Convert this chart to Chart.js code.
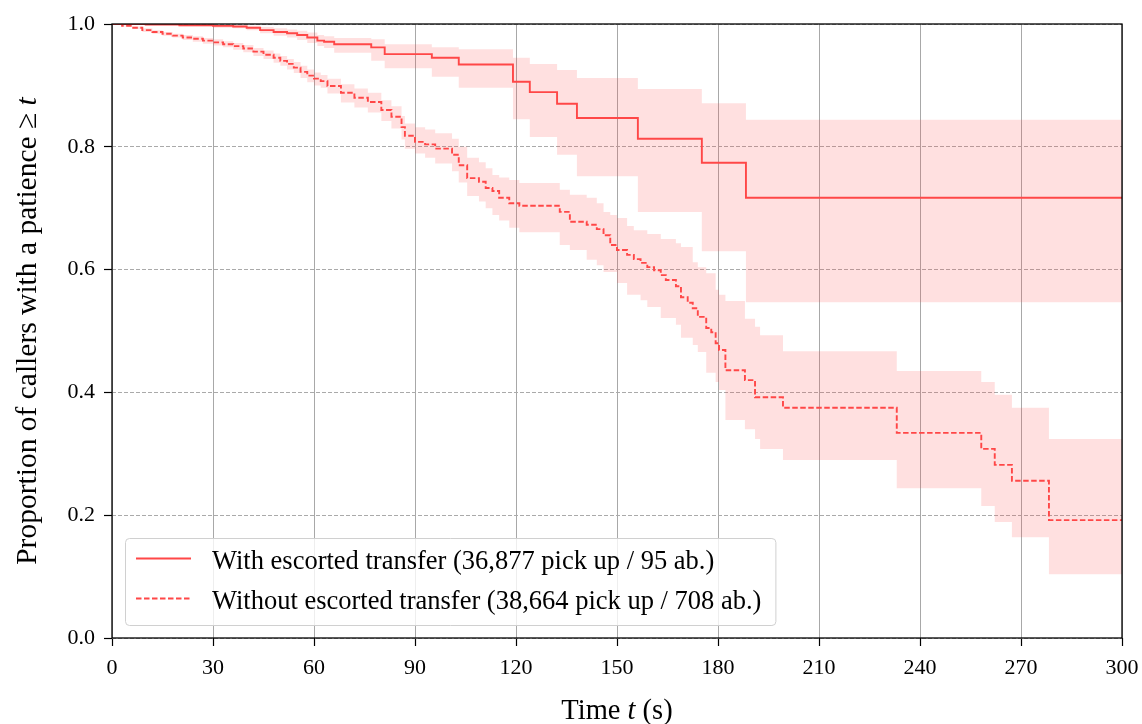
<!DOCTYPE html>
<html>
<head>
<meta charset="utf-8">
<script src="https://cdn.jsdelivr.net/npm/chart.js@4.4.0/dist/chart.umd.min.js"></script>
<style>
    html, body { margin: 0; padding: 0; background: #fff; }
    #wrap { width: 1142px; height: 724px; }
</style>
</head>
<body>
<div id="wrap"><canvas id="survivalChart" width="1142" height="724"></canvas></div>
<script>
// Kaplan-Meier estimates (time in seconds)
const withTimes = [0, 10, 20, 30, 36, 40, 44, 48, 52, 55, 58, 61, 63, 66, 77, 81, 95, 103, 119.1, 124.1, 132.2, 138.1, 156.2, 175.2, 188.3, 300];
const withSurvival = [1, 0.999, 0.998, 0.997, 0.996, 0.994, 0.990, 0.987, 0.985, 0.982, 0.978, 0.973, 0.971, 0.967, 0.962, 0.951, 0.945, 0.934, 0.906, 0.889, 0.870, 0.847, 0.813, 0.774, 0.717, 0.717];
const withUpper = [1, 1, 0.999, 0.999, 0.998, 0.997, 0.995, 0.993, 0.991, 0.989, 0.986, 0.982, 0.980, 0.977, 0.975, 0.967, 0.962, 0.959, 0.945, 0.935, 0.925, 0.912, 0.894, 0.871, 0.844, 0.844];
const withLower = [1, 0.998, 0.996, 0.994, 0.993, 0.990, 0.985, 0.981, 0.978, 0.974, 0.969, 0.964, 0.961, 0.953, 0.940, 0.928, 0.914, 0.896, 0.845, 0.816, 0.787, 0.752, 0.694, 0.630, 0.547, 0.547];

const withoutTimes = [0, 3, 6, 9, 12, 15, 18, 21, 24, 27,
    30, 33, 36, 39, 42, 45, 48, 50, 52, 54,
    56, 58, 60, 62, 64, 68, 72, 76, 80, 83,
    86, 87, 90, 93, 96, 101, 103, 105.5, 109, 111,
    113, 115, 118, 121, 133, 136, 141, 144, 146, 148,
    150, 153, 155, 157, 159, 161, 163, 164.5, 167.5, 169,
    171, 172.5, 174, 176.5, 178, 179.3, 180.3, 182.2, 188, 191,
    192.5, 199.3, 233.1, 258.2, 262.2, 267.3, 278.3, 300];
const withoutSurvival = [1, 0.997, 0.994, 0.990, 0.987, 0.984, 0.981, 0.978, 0.976, 0.973,
    0.970, 0.967, 0.964, 0.960, 0.955, 0.950, 0.945, 0.940, 0.935, 0.929,
    0.922, 0.916, 0.911, 0.907, 0.899, 0.888, 0.880, 0.873, 0.860, 0.849,
    0.832, 0.818, 0.808, 0.804, 0.797, 0.787, 0.770, 0.749, 0.743, 0.733,
    0.728, 0.717, 0.708, 0.704, 0.694, 0.678, 0.673, 0.666, 0.656, 0.640,
    0.632, 0.624, 0.617, 0.611, 0.604, 0.599, 0.591, 0.583, 0.573, 0.555,
    0.546, 0.537, 0.523, 0.505, 0.498, 0.480, 0.469, 0.436, 0.420, 0.392,
    0.392, 0.375, 0.334, 0.308, 0.282, 0.256, 0.192, 0.192];
const withoutUpper = [1, 0.998, 0.996, 0.993, 0.990, 0.987, 0.984, 0.982, 0.980, 0.977,
    0.975, 0.972, 0.969, 0.966, 0.961, 0.957, 0.952, 0.948, 0.943, 0.938,
    0.932, 0.926, 0.921, 0.917, 0.911, 0.902, 0.895, 0.888, 0.876, 0.866,
    0.850, 0.838, 0.832, 0.828, 0.822, 0.813, 0.800, 0.782, 0.775, 0.765,
    0.754, 0.750, 0.746, 0.741, 0.730, 0.722, 0.717, 0.708, 0.694, 0.689,
    0.684, 0.671, 0.664, 0.664, 0.658, 0.658, 0.650, 0.650, 0.643, 0.637,
    0.637, 0.612, 0.604, 0.594, 0.594, 0.567, 0.559, 0.549, 0.520, 0.507,
    0.493, 0.467, 0.435, 0.417, 0.396, 0.375, 0.324, 0.324];
const withoutLower = [1, 0.996, 0.992, 0.987, 0.984, 0.981, 0.978, 0.974, 0.971, 0.968,
    0.965, 0.962, 0.958, 0.954, 0.948, 0.943, 0.937, 0.932, 0.926, 0.920,
    0.912, 0.905, 0.900, 0.896, 0.887, 0.872, 0.864, 0.856, 0.842, 0.830,
    0.812, 0.797, 0.789, 0.782, 0.773, 0.760, 0.742, 0.720, 0.711, 0.700,
    0.689, 0.680, 0.668, 0.661, 0.640, 0.632, 0.616, 0.607, 0.596, 0.596,
    0.578, 0.559, 0.559, 0.550, 0.539, 0.539, 0.521, 0.521, 0.510, 0.489,
    0.489, 0.477, 0.466, 0.432, 0.432, 0.417, 0.404, 0.355, 0.340, 0.324,
    0.308, 0.290, 0.244, 0.215, 0.189, 0.164, 0.104, 0.104];

const withLabel = 'With escorted transfer (36,877 pick up / 95 ab.)';
const withoutLabel = 'Without escorted transfer (38,664 pick up / 708 ab.)';
const xTitle = ['Time ', 't', ' (s)'];
const yTitle = ['Proportion of callers with a patience \u2265 ', 't'];

const serif = "'Liberation Serif', 'DejaVu Serif', serif";
const lineColor = 'rgb(255, 71, 71)';
const bandColor = 'rgba(255, 71, 71, 0.17)';

function toPoints(times, values) {
    return times.map((t, i) => ({ x: t, y: values[i] }));
}

function bandDataset(times, values, fill) {
    return {
        data: toPoints(times, values),
        stepped: 'before',
        borderWidth: 0,
        borderColor: 'rgba(0,0,0,0)',
        backgroundColor: bandColor,
        pointRadius: 0,
        fill: fill
    };
}

// draws text pieces centred on the origin, odd pieces in italics
function drawPieces(ctx, pieces, size) {
    const fonts = pieces.map((p, i) => (i % 2 === 1 ? 'italic ' : '') + size + 'px ' + serif);
    let total = 0;
    const widths = pieces.map((p, i) => {
        ctx.font = fonts[i];
        const w = ctx.measureText(p).width;
        total += w;
        return w;
    });
    let x = -total / 2;
    pieces.forEach((p, i) => {
        ctx.font = fonts[i];
        ctx.fillText(p, x, 0);
        x += widths[i];
    });
}

const framePlugin = {
    id: 'frame',
    afterDatasetsDraw(chart) {
        const { ctx, chartArea } = chart;
        ctx.save();
        ctx.strokeStyle = '#000';
        ctx.lineWidth = 1.3;
        ctx.strokeRect(chartArea.left, chartArea.top, chartArea.right - chartArea.left, chartArea.bottom - chartArea.top);
        ctx.restore();
    }
};

const titlesPlugin = {
    id: 'axisTitles',
    afterDraw(chart) {
        const { ctx, chartArea } = chart;
        ctx.save();
        ctx.fillStyle = '#000';
        ctx.textBaseline = 'alphabetic';
        ctx.textAlign = 'left';
        ctx.translate((chartArea.left + chartArea.right) / 2, 719);
        drawPieces(ctx, xTitle, 28.5);
        ctx.restore();

        ctx.save();
        ctx.fillStyle = '#000';
        ctx.textBaseline = 'alphabetic';
        ctx.textAlign = 'left';
        ctx.translate(36, (chartArea.top + chartArea.bottom) / 2);
        ctx.rotate(-Math.PI / 2);
        drawPieces(ctx, yTitle, 29.5);
        ctx.restore();
    }
};

const legendPlugin = {
    id: 'boxLegend',
    afterDraw(chart) {
        const ctx = chart.ctx;
        const items = chart.data.datasets.filter(d => d.label);
        const boxX = chart.chartArea.left + 13;
        const boxY = 538;
        const rowGap = 40;
        const textX = boxX + 87;
        ctx.save();
        ctx.font = '26.5px ' + serif;
        const maxW = Math.max(...items.map(d => ctx.measureText(d.label).width));
        const boxW = textX + maxW + 14 - boxX;
        const boxH = 87;
        ctx.beginPath();
        ctx.roundRect(boxX + 0.5, boxY + 0.5, boxW, boxH, 4);
        ctx.fillStyle = 'rgba(255,255,255,0.8)';
        ctx.fill();
        ctx.strokeStyle = '#d0d0d0';
        ctx.lineWidth = 1;
        ctx.stroke();
        items.forEach((d, i) => {
            const y = boxY + 20.5 + i * rowGap;
            ctx.beginPath();
            ctx.setLineDash(d.borderDash || []);
            ctx.strokeStyle = d.borderColor;
            ctx.lineWidth = d.borderWidth;
            ctx.moveTo(boxX + 11, y);
            ctx.lineTo(boxX + 66, y);
            ctx.stroke();
            ctx.setLineDash([]);
            ctx.fillStyle = '#000';
            ctx.textBaseline = 'alphabetic';
            ctx.fillText(d.label, textX, y + 10.5);
        });
        ctx.restore();
    }
};

const chart = new Chart(document.getElementById('survivalChart').getContext('2d'), {
    type: 'line',
    data: {
        datasets: [
            {
                label: withLabel,
                data: toPoints(withTimes, withSurvival),
                stepped: 'before',
                borderColor: lineColor,
                borderWidth: 1.9,
                pointRadius: 0,
                fill: false
            },
            {
                label: withoutLabel,
                data: toPoints(withoutTimes, withoutSurvival),
                stepped: 'before',
                borderColor: lineColor,
                borderWidth: 1.9,
                borderDash: [5.5, 2.5],
                pointRadius: 0,
                fill: false
            },
            bandDataset(withTimes, withUpper, '+1'),
            bandDataset(withTimes, withLower, false),
            bandDataset(withoutTimes, withoutUpper, '+1'),
            bandDataset(withoutTimes, withoutLower, false)
        ]
    },
    options: {
        responsive: false,
        animation: false,
        devicePixelRatio: 1,
        layout: { padding: { left: 0, top: 24, right: 20, bottom: 0 } },
        plugins: {
            legend: { display: false },
            tooltip: { enabled: false },
            title: { display: false }
        },
        scales: {
            x: {
                type: 'linear',
                min: 0,
                max: 300,
                afterFit: scale => {
                    scale.height = 86;
                    scale.paddingLeft = 0;
                    scale.paddingRight = 0;
                },
                ticks: {
                    stepSize: 30,
                    padding: 9,
                    color: '#000',
                    maxRotation: 0,
                    font: { family: serif, size: 22 }
                },
                grid: {
                    color: '#a8a8a8',
                    lineWidth: 1,
                    tickLength: 8,
                    tickColor: '#000',
                    tickWidth: 1.2
                },
                border: { display: false }
            },
            y: {
                min: 0,
                max: 1,
                afterFit: scale => {
                    scale.width = 112;
                    scale.paddingTop = 0;
                    scale.paddingBottom = 0;
                },
                ticks: {
                    stepSize: 0.2,
                    padding: 9,
                    color: '#000',
                    font: { family: serif, size: 22 },
                    callback: v => v.toFixed(1)
                },
                grid: {
                    color: '#aaaaaa',
                    lineWidth: 1,
                    tickLength: 8,
                    tickColor: '#000',
                    tickWidth: 1.2
                },
                border: { display: false, dash: [4, 2] }
            }
        }
    },
    plugins: [framePlugin, titlesPlugin, legendPlugin]
});
</script>
</body>
</html>
